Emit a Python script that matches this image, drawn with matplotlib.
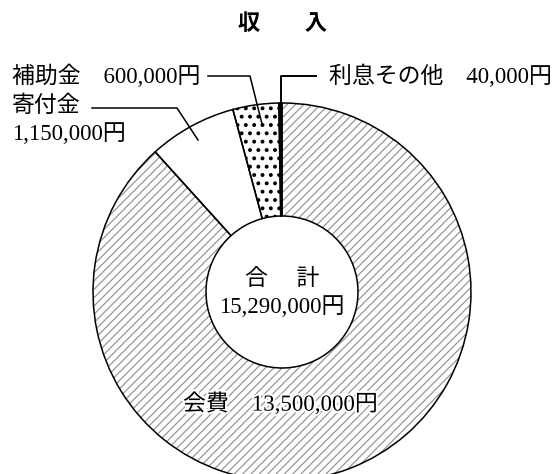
import matplotlib.pyplot as plt
import matplotlib.patheffects as pe

plt.rcParams['font.family'] = ['Liberation Serif', 'Noto Sans CJK JP']
plt.rcParams['hatch.linewidth'] = 0.8

# data: counterclockwise from the top
labels = ['利息その他', '補助金', '寄付金', '会費']
values = [40000, 600000, 1150000, 13500000]
value_text = ['40,000円', '600,000円', '1,150,000円', '13,500,000円']
total = sum(values)
total_text = f'{total:,}円'

fills = ['black', 'white', 'white', 'white']
hatches = [None, '..', None, '////']
hatch_colors = ['black', 'black', 'black', '#8c8c8c']
hatch_lw = [0.8, 1.6, 0.8, 0.8]

W, H = 555, 474
cx, cy = 282, 292
r_out, r_in = 189, 76


def Y(y):
    # pixel row (from top) -> data y
    return H - y


fig = plt.figure(figsize=(W / 100, H / 100), dpi=100)
ax = fig.add_axes([0, 0, 1, 1])

# fills + hatches
wedges, _ = ax.pie(values, startangle=90, counterclock=True, radius=r_out,
                   center=(cx, Y(cy)), colors=fills,
                   wedgeprops=dict(width=r_out - r_in, linewidth=0))
for w, h, hc, hl in zip(wedges, hatches, hatch_colors, hatch_lw):
    w.set_edgecolor(hc)
    w.set_linewidth(0)
    if h:
        w.set_hatch(h)
        if hasattr(w, 'set_hatch_linewidth'):
            w.set_hatch_linewidth(hl)
        else:
            w._hatch_linewidth = hl

# outlines
ax.pie(values, startangle=90, counterclock=True, radius=r_out,
       center=(cx, Y(cy)),
       wedgeprops=dict(width=r_out - r_in, fill=False, edgecolor='black', linewidth=1.1))

ax.set_xlim(0, W)
ax.set_ylim(0, H)
ax.axis('off')

fs = 16.5
# title
ax.text(cx, Y(25), '収　　入', ha='center', va='center', fontsize=16, fontweight='bold')

# leader lines
ax.plot([281, 281, 317], [Y(104), Y(76), Y(76)], color='black', lw=1.4, solid_capstyle='butt')
ax.plot([208, 250, 262], [Y(76), Y(76), Y(124)], color='black', lw=1.1)
ax.plot([92, 177, 198], [Y(108), Y(108), Y(140)], color='black', lw=1.1)

# labels
ax.text(552, Y(76), labels[0] + '　' + value_text[0], ha='right', va='center', fontsize=fs)
ax.text(12, Y(76), labels[1] + '　' + value_text[1], ha='left', va='center', fontsize=fs)
ax.text(12, Y(106), labels[2], ha='left', va='center', fontsize=fs)
ax.text(12, Y(134), value_text[2], ha='left', va='center', fontsize=fs)
ax.text(183, Y(404), labels[3] + '　' + value_text[3], ha='left', va='center', fontsize=fs,
        path_effects=[pe.withStroke(linewidth=3, foreground='white')])

# centre total
ax.text(cx, Y(279), '合　 計', ha='center', va='center', fontsize=fs)
ax.text(cx, Y(307), total_text, ha='center', va='center', fontsize=fs)

fig.savefig('out.png', dpi=100)
